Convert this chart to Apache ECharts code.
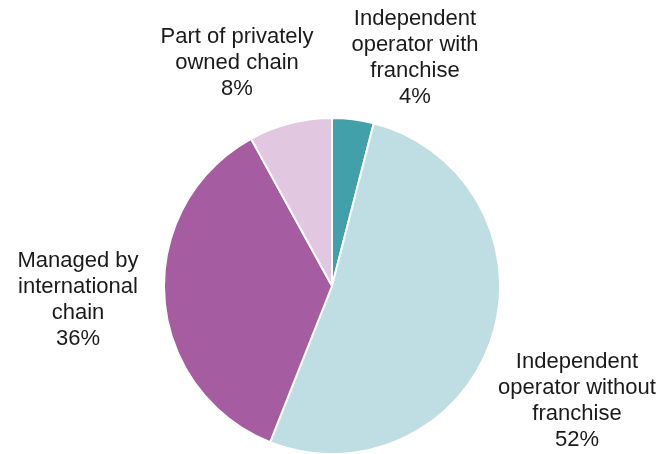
<!DOCTYPE html>
<html>
<head>
<meta charset="utf-8">
<script src="https://cdn.jsdelivr.net/npm/echarts@6/dist/echarts.min.js"></script>
<style>
  html, body { margin: 0; padding: 0; background: #fff; }
  #chart { width: 658px; height: 454px; }
</style>
</head>
<body>
<div id="chart"></div>
<script>
// Ownership structure shares (%)
const categories = [
  'Independent\noperator with\nfranchise',
  'Independent\noperator without\nfranchise',
  'Managed by\ninternational\nchain',
  'Part of privately\nowned chain'
];
const shares = [4, 52, 36, 8];
const colors = ['#42A0AB', '#BEDEE3', '#A55CA0', '#E2C7E0'];

// Where each label block is centred
const labelSpots = [
  [415, 58],
  [577, 401],
  [78, 300],
  [237, 63]
];

const chart = echarts.init(document.getElementById('chart'), null, { renderer: 'canvas' });

chart.setOption({
  animation: false,
  series: [{
    type: 'pie',
    center: [332, 286],
    radius: [0, 168],
    startAngle: 90,
    clockwise: true,
    data: categories.map((name, i) => ({
      name: name,
      value: shares[i],
      itemStyle: { color: colors[i] }
    })),
    itemStyle: { borderColor: '#ffffff', borderWidth: 2 },
    label: {
      show: true,
      position: 'outside',
      formatter: p => p.name + '\n' + p.value + '%',
      fontFamily: 'Liberation Sans, Arial, sans-serif',
      fontSize: 22,
      lineHeight: 26,
      color: '#1a1a1a',
      align: 'center',
      overflow: 'none',
      width: 400
    },
    labelLine: { show: false },
    labelLayout: function (params) {
      const spot = labelSpots[params.dataIndex];
      return {
        x: spot[0],
        y: spot[1],
        align: 'center',
        verticalAlign: 'middle'
      };
    },
    emphasis: { disabled: true }
  }]
});
</script>
</body>
</html>
